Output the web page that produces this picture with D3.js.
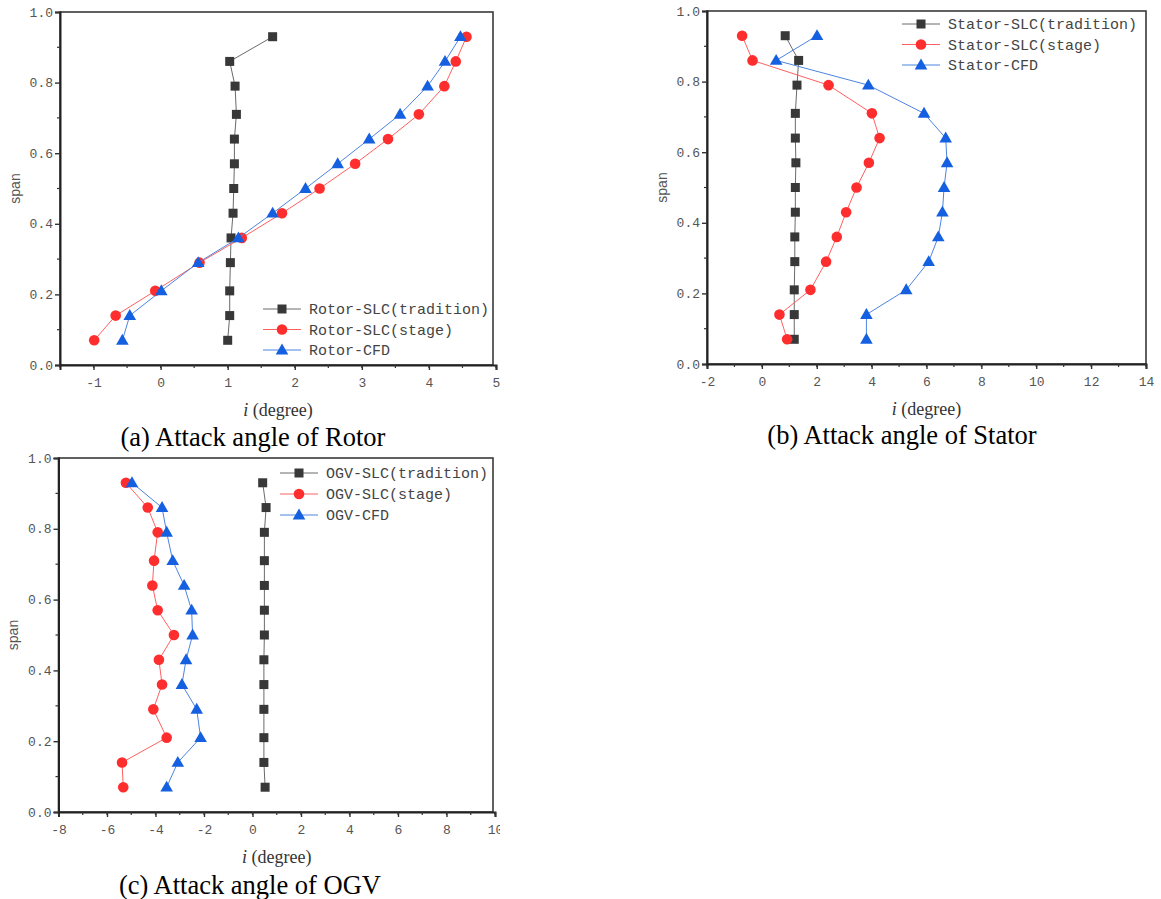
<!DOCTYPE html>
<html><head><meta charset="utf-8">
<script src="https://cdn.jsdelivr.net/npm/d3@7"></script>
<style>body{margin:0;background:#fff}svg{display:block}</style>
</head><body>
<script>
// ---- data ----
const span = [0.07,0.14,0.21,0.29,0.36,0.43,0.50,0.57,0.64,0.71,0.79,0.86,0.93];

const rotorTradition = [1.00,1.03,1.03,1.04,1.05,1.08,1.09,1.10,1.10,1.13,1.11,1.03,1.67];
const rotorStage     = [-0.99,-0.67,-0.08,0.58,1.21,1.81,2.37,2.90,3.39,3.85,4.23,4.40,4.56];
const rotorCFD       = [-0.57,-0.46,0.01,0.56,1.16,1.67,2.16,2.64,3.11,3.57,3.98,4.24,4.47];

const statorTradition = [1.18,1.18,1.18,1.20,1.20,1.22,1.22,1.24,1.22,1.22,1.28,1.34,0.85];
const statorStage     = [0.92,0.64,1.77,2.34,2.73,3.07,3.45,3.90,4.29,4.01,2.43,-0.34,-0.72];
const statorCFD       = [3.81,3.81,5.26,6.08,6.43,6.58,6.64,6.75,6.70,5.91,3.88,0.52,2.01];

const ogvTradition = [0.52,0.47,0.47,0.47,0.47,0.47,0.49,0.49,0.49,0.49,0.49,0.56,0.42];
const ogvStage     = [-5.33,-5.38,-3.54,-4.09,-3.73,-3.86,-3.24,-3.91,-4.13,-4.06,-3.91,-4.32,-5.22];
const ogvCFD       = [-3.54,-3.08,-2.14,-2.30,-2.91,-2.74,-2.47,-2.51,-2.82,-3.29,-3.54,-3.73,-4.97];

const rotorLegend  = ["Rotor-SLC(tradition)","Rotor-SLC(stage)","Rotor-CFD"];
const statorLegend = ["Stator-SLC(tradition)","Stator-SLC(stage)","Stator-CFD"];
const ogvLegend    = ["OGV-SLC(tradition)","OGV-SLC(stage)","OGV-CFD"];

const rotorXTicks  = [-1,0,1,2,3,4,5];
const statorXTicks = [-2,0,2,4,6,8,10,12,14];
const ogvXTicks    = [-8,-6,-4,-2,0,2,4,6,8,10];
const spanTicks    = [0.0,0.2,0.4,0.6,0.8,1.0];

const captions = ["(a) Attack angle of Rotor","(b) Attack angle of Stator","(c) Attack angle of OGV"];

// ---- drawing ----
const svg = d3.select("body").append("svg").attr("width",1161).attr("height",899);

const styles = [
  {marker:"square",   fill:"#383838", line:"#6a6a6a"},
  {marker:"circle",   fill:"#ff2e2e", line:"#ff6060"},
  {marker:"triangle", fill:"#1560e0", line:"#4d84e0"}
];

function drawMarker(g, type, x, y, s){
  if(type==="square"){
    g.append("rect").attr("x",x-4.5).attr("y",y-4.5).attr("width",9).attr("height",9).attr("fill",s.fill);
  } else if(type==="circle"){
    g.append("circle").attr("cx",x).attr("cy",y).attr("r",5.3).attr("fill",s.fill);
  } else {
    g.append("path").attr("d",`M${x},${y-6.5}L${x+6.3},${y+4.4}L${x-6.3},${y+4.4}Z`).attr("fill",s.fill);
  }
}

function panel(cfg){
  const g = svg.append("g");
  if(cfg.clipRight){
    const id = "clip"+cfg.caption.length+Math.round(cfg.left);
    svg.append("clipPath").attr("id",id).append("rect").attr("x",0).attr("y",0).attr("width",cfg.clipRight).attr("height",899);
    g.attr("clip-path",`url(#${id})`);
  }
  const x = d3.scaleLinear().domain(cfg.xDomain).range([cfg.left,cfg.right]);
  const y = d3.scaleLinear().domain([0,1]).range([cfg.bottom,cfg.top]);

  // frame
  g.append("rect").attr("x",cfg.left).attr("y",cfg.top).attr("width",cfg.frameRight-cfg.left).attr("height",cfg.bottom-cfg.top)
    .attr("fill","none").attr("stroke","#3a3a3a").attr("stroke-width",1.6);

  // x axis
  const xMinor = d3.range(cfg.xDomain[0], cfg.xDomain[1]+1e-9, cfg.xMinorStep);
  const xa = g.append("g").attr("transform",`translate(0,${cfg.bottom})`)
    .call(d3.axisBottom(x).tickValues(cfg.xTicks).tickSize(5).tickFormat(d3.format("d")));
  xa.select(".domain").attr("stroke","#222").attr("stroke-width",2);
  xa.selectAll(".tick line").attr("stroke","#333").attr("stroke-width",1.4);
  xa.selectAll(".tick text").attr("font-family","Liberation Mono").attr("font-size",13).attr("fill","#555").attr("dy","1.05em")
    .text(d=> d<0 ? "-"+Math.abs(d) : String(d));
  g.append("g").selectAll("line").data(xMinor).join("line")
    .attr("x1",d=>x(d)).attr("x2",d=>x(d)).attr("y1",cfg.bottom).attr("y2",cfg.bottom+3)
    .attr("stroke","#333").attr("stroke-width",1.2);

  // y axis
  const ya = g.append("g").attr("transform",`translate(${cfg.left},0)`)
    .call(d3.axisLeft(y).tickValues(spanTicks).tickSize(5).tickFormat(d3.format(".1f")));
  ya.select(".domain").attr("stroke","#222").attr("stroke-width",2);
  ya.selectAll(".tick line").attr("stroke","#333").attr("stroke-width",1.4);
  ya.selectAll(".tick text").attr("font-family","Liberation Mono").attr("font-size",13).attr("fill","#555").attr("x",-7);
  g.append("g").selectAll("line").data(d3.range(0.1,1,0.2)).join("line")
    .attr("x1",cfg.left-3).attr("x2",cfg.left).attr("y1",d=>y(d)).attr("y2",d=>y(d))
    .attr("stroke","#333").attr("stroke-width",1.2);

  // series
  cfg.series.forEach((vals,i)=>{
    const s = styles[i];
    const pts = vals.map((v,j)=>[x(v), y(span[j])]);
    g.append("path").attr("d", d3.line()(pts)).attr("fill","none").attr("stroke",s.line).attr("stroke-width",1);
    pts.forEach(p=>drawMarker(g, s.marker, p[0], p[1], s));
  });

  // legend
  cfg.legend.forEach((name,i)=>{
    const s = styles[i];
    const ly = cfg.legendY + i*cfg.legendStep;
    g.append("line").attr("x1",cfg.legendX).attr("x2",cfg.legendX+38).attr("y1",ly).attr("y2",ly).attr("stroke",s.line).attr("stroke-width",1);
    drawMarker(g, s.marker, cfg.legendX+19, ly, s);
    g.append("text").attr("x",cfg.legendX+46).attr("y",ly).attr("dy","0.35em")
      .attr("font-family","Liberation Mono").attr("font-size",15).attr("fill","#444").text(name);
  });

  // axis labels
  g.append("text").attr("transform",`translate(${cfg.left-45},${(cfg.top+cfg.bottom)/2}) rotate(-90)`)
    .attr("text-anchor","middle").attr("dy","0.35em").attr("font-family","Liberation Sans").attr("font-size",14).attr("fill","#555").text("span");
  const xl = g.append("text").attr("x",(cfg.left+cfg.right)/2).attr("y",cfg.bottom+51)
    .attr("text-anchor","middle").attr("font-family","Liberation Serif").attr("font-size",18).attr("fill","#333");
  xl.append("tspan").attr("font-style","italic").text("i");
  xl.append("tspan").text(" (degree)");

  svg.append("text").attr("x",cfg.capX).attr("y",cfg.capY).attr("text-anchor","middle").attr("dy","0.35em")
    .attr("font-family","Liberation Serif").attr("font-size",26.5).attr("fill","#000").text(cfg.caption);
}

panel({left:60,right:496,frameRight:493,top:12,bottom:365,xDomain:[-1.5,5],xTicks:rotorXTicks,xMinorStep:0.5,
  series:[rotorTradition,rotorStage,rotorCFD],legend:rotorLegend,legendX:263,legendY:309,legendStep:20.5,
  caption:captions[0],capX:253,capY:437,clipRight:500});
panel({left:707,right:1146,frameRight:1146,top:11,bottom:364,xDomain:[-2,14],xTicks:statorXTicks,xMinorStep:1,
  series:[statorTradition,statorStage,statorCFD],legend:statorLegend,legendX:902,legendY:24,legendStep:20.5,
  caption:captions[1],capX:902,capY:435,clipRight:1155});
panel({left:58.5,right:495,frameRight:493,top:458,bottom:812,xDomain:[-8,10],xTicks:ogvXTicks,xMinorStep:1,
  series:[ogvTradition,ogvStage,ogvCFD],legend:ogvLegend,legendX:280,legendY:473,legendStep:21,
  caption:captions[2],capX:250,capY:885,clipRight:500});
</script>
</body></html>
